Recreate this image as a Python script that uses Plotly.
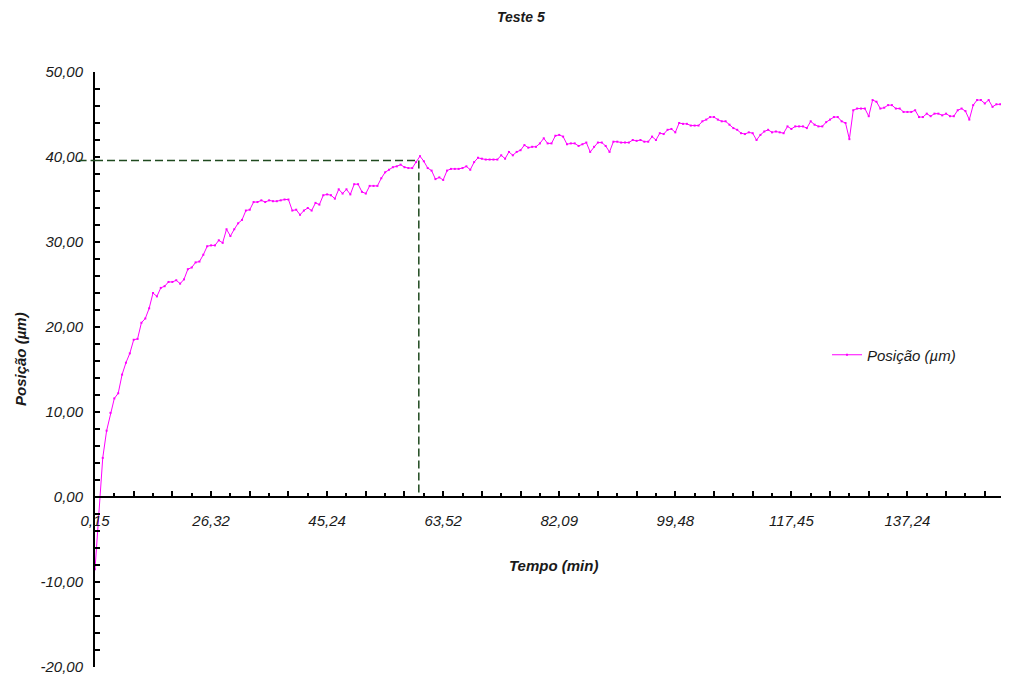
import plotly.graph_objects as go

# ---- data ----
posicao = [
    -8.5, -2.0, 4.6, 7.8, 9.9, 11.6, 12.2, 14.4, 15.8, 16.9,
    18.5, 18.6, 20.5, 21.0, 22.2, 24.0, 23.6, 24.6, 24.8, 25.3,
    25.3, 25.5, 25.1, 25.6, 26.8, 27.0, 27.6, 27.7, 28.5, 29.5,
    29.6, 29.6, 30.2, 29.9, 31.5, 30.7, 31.5, 32.2, 32.6, 33.7,
    33.8, 34.7, 34.7, 34.9, 34.7, 34.9, 34.8, 34.8, 34.9, 35.0,
    35.0, 33.7, 33.8, 33.2, 33.7, 34.0, 33.7, 34.6, 34.4, 35.5,
    35.6, 35.5, 35.1, 36.2, 35.7, 36.2, 35.6, 36.8, 36.8, 35.9,
    35.7, 36.6, 36.6, 36.6, 37.5, 38.2, 38.5, 38.8, 38.9, 39.1,
    38.8, 38.7, 38.7, 39.4, 40.1, 39.5, 38.7, 38.4, 37.4, 37.6,
    37.3, 38.4, 38.6, 38.6, 38.6, 38.7, 38.9, 38.5, 39.4, 39.9,
    39.8, 39.7, 39.7, 39.7, 39.7, 40.2, 39.8, 40.6, 40.2, 40.6,
    40.8, 41.4, 41.1, 41.2, 41.2, 41.6, 42.2, 41.6, 41.6, 42.5,
    42.6, 42.4, 41.5, 41.6, 41.6, 41.3, 41.5, 41.7, 40.6, 41.2,
    41.7, 41.7, 41.3, 40.6, 41.8, 41.8, 41.7, 41.7, 41.7, 42.0,
    41.9, 42.0, 41.8, 41.8, 42.4, 42.0, 42.8, 42.7, 43.2, 43.3,
    42.9, 44.0, 43.9, 43.9, 43.7, 43.7, 43.7, 44.2, 44.4, 44.7,
    44.7, 44.4, 44.2, 44.2, 43.8, 43.4, 43.2, 42.8, 42.7, 42.9,
    42.8, 42.0, 42.6, 43.0, 43.2, 42.9, 43.0, 42.9, 42.8, 43.6,
    43.3, 43.6, 43.6, 43.6, 43.4, 44.2, 43.8, 43.6, 43.6, 44.1,
    44.4, 44.7, 44.7, 44.2, 44.0, 42.1, 45.5, 45.7, 45.7, 45.7,
    44.8, 46.7, 46.5, 45.7, 45.8, 46.1, 46.1, 45.7, 45.7, 45.3,
    45.3, 45.3, 45.5, 44.7, 44.7, 45.1, 44.8, 45.1, 45.1, 44.9,
    45.1, 44.8, 44.8, 45.5, 45.7, 45.4, 44.4, 46.1, 46.7, 46.7,
    46.3, 46.7, 45.9, 46.2, 46.2, 46.0, 46.3,
]
tempo_labels = ["0,15", "26,32", "45,24", "63,52", "82,09", "99,48", "117,45", "137,24"]
label_every = 30          # categories between labelled ticks
tick_every = 5            # categories between tick marks
y_tick_values = [-20, -10, 0, 10, 20, 30, 40, 50]
y_tick_labels = ["-20,00", "-10,00", "0,00", "10,00", "20,00", "30,00", "40,00", "50,00"]
y_minor_step = 2

ref_tempo = [0, 83.7, 83.7]      # dashed reference (category index)
ref_pos = [39.6, 39.6, 0]

# ---- derived ----
cats = list(range(len(posicao)))
x_max = len(posicao) - 1
y_min, y_max = -20, 50

x_major = list(range(0, x_max + 1, 2 * tick_every))
x_minor = list(range(tick_every, x_max + 1, 2 * tick_every))
x_text = []
for v in x_major:
    if v % label_every == 0 and v // label_every < len(tempo_labels):
        x_text.append(tempo_labels[v // label_every])
    else:
        x_text.append("")

y_all = list(range(y_min, y_max + 1, y_minor_step))
y_text = [y_tick_labels[y_tick_values.index(v)] if v in y_tick_values else "" for v in y_all]

FONT = "Liberation Sans, Arial, sans-serif"
TXT = "#1a1a1a"

# plot area in page pixels: left 95, right 1008, top 72, bottom 667
# (page body adds an 8 px offset)
PL, PT, PW, PH = 95, 72, 913, 595


def px(xp):
    return (xp - PL) / PW


def py(yp):
    return (PT + PH - yp) / PH


fig = go.Figure()
fig.add_trace(go.Scatter(
    x=ref_tempo, y=ref_pos, mode="lines",
    line=dict(color="#1f4a1f", width=1.5, dash="8px,4px"),
    showlegend=False, hoverinfo="skip",
))
fig.add_trace(go.Scatter(
    x=cats, y=posicao, mode="lines+markers", name="Posição (µm)",
    line=dict(color="#ff00ff", width=1),
    marker=dict(color="#ff00ff", size=2, symbol="square"),
))

# short extension of the dashed reference to the left of the value axis
fig.add_shape(type="line", xref="paper", yref="y",
              x0=-0.018, x1=0, y0=ref_pos[0], y1=ref_pos[0],
              line=dict(color="#1f4a1f", width=1.5, dash="8px,4px"))

fig.update_layout(
    width=1001, height=669,
    margin=dict(l=PL - 8, r=1, t=PT - 8, b=10, autoexpand=False),
    plot_bgcolor="white", paper_bgcolor="white",
    font=dict(family=FONT, color=TXT, size=14),
    xaxis=dict(
        range=[0, x_max], anchor="free",
        position=(0 - y_min) / (y_max - y_min),
        showline=True, linecolor="black", linewidth=2,
        showgrid=False, zeroline=False,
        tickmode="array", tickvals=x_major, ticktext=x_text,
        ticks="inside", ticklen=5, tickwidth=2, tickcolor="black",
        minor=dict(tickmode="array", tickvals=x_minor, ticks="inside",
                   ticklen=3, tickwidth=2, tickcolor="black"),
        tickfont=dict(family=FONT, size=15, color=TXT, style="italic"),
        ticklabelstandoff=10, automargin=False,
    ),
    yaxis=dict(
        range=[y_min, y_max],
        showline=True, linecolor="black", linewidth=2,
        showgrid=False, zeroline=False,
        tickmode="array", tickvals=y_all, ticktext=y_text,
        ticks="inside", ticklen=5, tickwidth=2, tickcolor="black",
        tickfont=dict(family=FONT, size=15, color=TXT, style="italic"),
        ticklabelstandoff=7, automargin=False,
    ),
    legend=dict(
        x=px(827), y=py(355), xanchor="left", yanchor="middle",
        font=dict(family=FONT, size=15, color=TXT, style="italic"),
        bgcolor="rgba(0,0,0,0)",
    ),
    annotations=[
        dict(text="<b><i>Teste 5</i></b>", xref="paper", yref="paper",
             x=px(521), y=py(17), xanchor="center", yanchor="middle",
             showarrow=False, font=dict(family=FONT, size=14, color=TXT)),
        dict(text="<b><i>Tempo (min)</i></b>", xref="paper", yref="paper",
             x=px(553), y=py(565), xanchor="center", yanchor="middle",
             showarrow=False, font=dict(family=FONT, size=15, color=TXT)),
        dict(text="<b><i>Posição (µm)</i></b>", xref="paper", yref="paper",
             x=px(21), y=py(359), xanchor="center", yanchor="middle",
             showarrow=False, textangle=-90,
             font=dict(family=FONT, size=15, color=TXT)),
    ],
)

fig.write_html("out.html")
